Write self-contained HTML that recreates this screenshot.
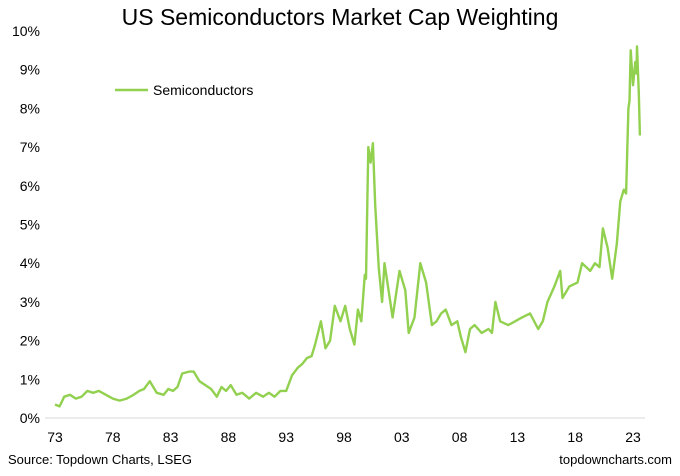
<!DOCTYPE html>
<html><head><meta charset="utf-8"><style>
body{margin:0;background:#fff;font-family:"Liberation Sans",Arial,sans-serif}
svg text{font-family:"Liberation Sans",Arial,sans-serif}
</style></head><body>
<svg id="chart" width="680" height="471">
<text x="340" y="25" text-anchor="middle" font-size="23" fill="#000">US Semiconductors Market Cap Weighting</text>
<g id="yaxis"></g>
<g id="xaxis"></g>
<line x1="45" y1="418" x2="645" y2="418" stroke="#d9d9d9" stroke-width="1"/>
<path id="series" fill="none" stroke="#92d050" stroke-width="2.4" stroke-linejoin="round"/>
<g>
<line x1="115" y1="90" x2="148" y2="90" stroke="#92d050" stroke-width="2.6"/>
<text x="153" y="95" font-size="14">Semiconductors</text>
</g>
<text x="8" y="464" font-size="13">Source: Topdown Charts, LSEG</text>
<text x="672" y="464" font-size="13" text-anchor="end">topdowncharts.com</text>
</svg>
<script>
const yTicks=[0,1,2,3,4,5,6,7,8,9,10];
const xTickYears=[1973,1978,1983,1988,1993,1998,2003,2008,2013,2018,2023];
const xTickLabels=["73","78","83","88","93","98","03","08","13","18","23"];
const years=[1973,1973.4,1973.8,1974.3,1974.8,1975.3,1975.8,1976.3,1976.8,1977.4,1978,1978.6,1979.2,1979.8,1980.3,1980.7,1981.2,1981.8,1982.4,1982.8,1983.2,1983.6,1984,1984.6,1985,1985.5,1986,1986.5,1987,1987.4,1987.8,1988.2,1988.7,1989.2,1989.8,1990.4,1991,1991.5,1992,1992.5,1993,1993.5,1994,1994.4,1994.8,1995.2,1995.5,1996,1996.4,1996.8,1997.2,1997.7,1998.1,1998.5,1998.9,1999.2,1999.5,1999.8,1999.9,2000.1,2000.3,2000.5,2000.7,2001,2001.3,2001.5,2002.2,2002.8,2003.3,2003.6,2004.1,2004.6,2005.1,2005.6,2006,2006.4,2006.8,2007.3,2007.8,2008.1,2008.5,2008.9,2009.3,2009.9,2010.5,2010.8,2011.1,2011.5,2012.2,2012.8,2013.4,2014.1,2014.8,2015.2,2015.6,2016.2,2016.7,2016.9,2017.5,2018.2,2018.6,2019.3,2019.7,2020.1,2020.4,2020.8,2021.2,2021.6,2021.9,2022.2,2022.4,2022.6,2022.7,2022.8,2023,2023.2,2023.3,2023.35,2023.5,2023.6];
const values=[0.35,0.3,0.55,0.6,0.5,0.55,0.7,0.65,0.7,0.6,0.5,0.45,0.5,0.6,0.7,0.75,0.95,0.65,0.6,0.75,0.7,0.8,1.15,1.2,1.2,0.95,0.85,0.75,0.55,0.8,0.7,0.85,0.6,0.65,0.5,0.65,0.55,0.65,0.55,0.7,0.7,1.1,1.3,1.4,1.55,1.6,1.9,2.5,1.8,2.0,2.9,2.5,2.9,2.3,1.9,2.8,2.5,3.7,3.6,7.0,6.6,7.1,5.5,3.9,3.0,4.0,2.6,3.8,3.3,2.2,2.6,4.0,3.5,2.4,2.5,2.7,2.8,2.4,2.5,2.1,1.7,2.3,2.4,2.2,2.3,2.2,3.0,2.5,2.4,2.5,2.6,2.7,2.3,2.5,3.0,3.4,3.8,3.1,3.4,3.5,4.0,3.8,4.0,3.9,4.9,4.4,3.6,4.5,5.6,5.9,5.8,8.0,8.2,9.5,8.6,9.2,8.9,9.6,8.4,7.3];
const X=y=>55+(y-1973)*11.56;
const Y=v=>418-v*38.7;
const ns="http://www.w3.org/2000/svg";
const ya=document.getElementById('yaxis');
yTicks.forEach(t=>{const e=document.createElementNS(ns,'text');
e.setAttribute('x',40);e.setAttribute('y',Y(t)+5);e.setAttribute('text-anchor','end');e.setAttribute('font-size','14');


e.textContent=t+'%';ya.appendChild(e);});
const xa=document.getElementById('xaxis');
xTickYears.forEach((yr,i)=>{const e=document.createElementNS(ns,'text');
e.setAttribute('x',X(yr));e.setAttribute('y',442);e.setAttribute('text-anchor','middle');e.setAttribute('font-size','14');


e.textContent=xTickLabels[i];xa.appendChild(e);});
document.getElementById('series').setAttribute('d',years.map((y,i)=>(i?'L':'M')+X(y).toFixed(1)+','+Y(values[i]).toFixed(1)).join(''));
</script>
</body></html>
